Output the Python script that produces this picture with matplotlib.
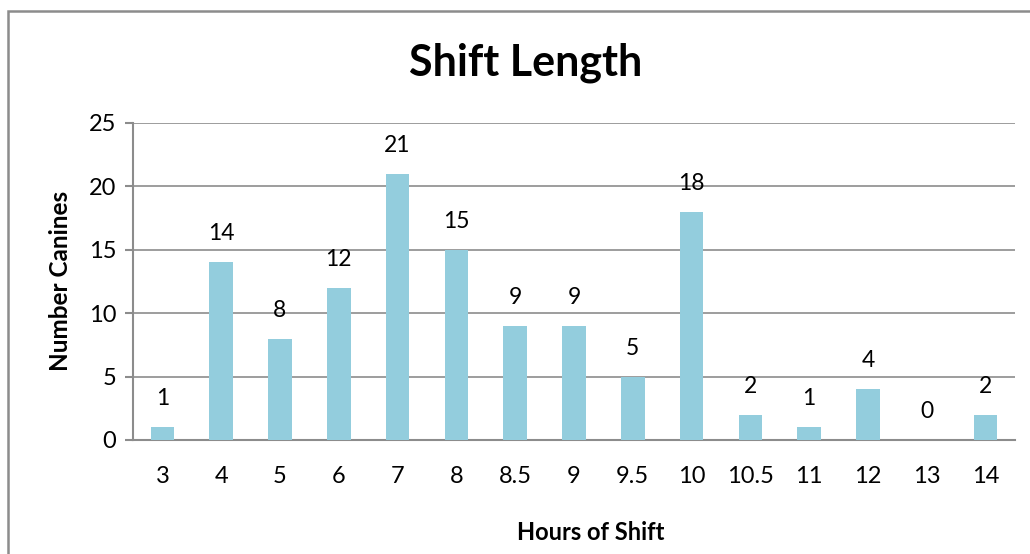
import matplotlib
matplotlib.use("Agg")
import matplotlib.pyplot as plt
from matplotlib.patches import Rectangle

# data
hours = ["3", "4", "5", "6", "7", "8", "8.5", "9", "9.5", "10", "10.5", "11", "12", "13", "14"]
canines = [1, 14, 8, 12, 21, 15, 9, 9, 5, 18, 2, 1, 4, 0, 2]
y_ticks = [0, 5, 10, 15, 20, 25]

bar_color = "#93CDDD"
grid_color = "#8C8C8C"

plt.rcParams["font.family"] = ["Lato", "DejaVu Sans"]

fig = plt.figure(figsize=(10.3, 5.54), dpi=100)
ax = fig.add_axes([133 / 1030, 1 - 440 / 554, (1015 - 133) / 1030, (440 - 123) / 554])

x = list(range(len(hours)))
bars = ax.bar(x, canines, width=0.4, color=bar_color, zorder=3)

for xi, v in zip(x, canines):
    ax.annotate(str(v), (xi, v), xytext=(0, 13), textcoords="offset points",
                ha="center", va="bottom", fontsize=16.5, color="black")

ax.set_xlim(-0.5, len(hours) - 0.5)
ax.set_ylim(0, 25)
ax.set_yticks(y_ticks)
ax.set_xticks(x)
ax.set_xticklabels(hours)
ax.tick_params(axis="y", labelsize=17, length=6, width=1.5, color=grid_color, pad=6)
ax.tick_params(axis="x", labelsize=17, length=0, pad=19)

ax.yaxis.grid(True, color=grid_color, linewidth=1.2, zorder=0)
ax.set_axisbelow(True)
for side in ["top", "right"]:
    ax.spines[side].set_visible(False)
ax.spines["left"].set_color(grid_color)
ax.spines["bottom"].set_color(grid_color)
ax.spines["left"].set_linewidth(1.5)
ax.spines["bottom"].set_linewidth(1.5)

fig.text(526 / 1030, 1 - 63 / 554, "Shift Length", ha="center", va="center",
         fontsize=31, fontweight="bold")
fig.text(60 / 1030, 1 - 281 / 554, "Number Canines", ha="center", va="center",
         rotation=90, fontsize=17.5, fontweight="bold")
fig.text(591 / 1030, 1 - 532 / 554, "Hours of Shift", ha="center", va="center",
         fontsize=17, fontweight="bold")

# outer chart border, cut off at the right and bottom like the original
fig.patches.append(Rectangle((8 / 1030, -0.1), 1.2, 1 - 11 / 554 + 0.1,
                             transform=fig.transFigure, fill=False,
                             edgecolor=grid_color, linewidth=1.8))

fig.savefig("out.png", dpi=100)
